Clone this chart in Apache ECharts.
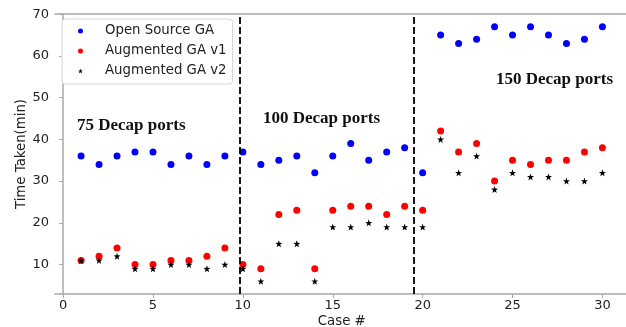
<!DOCTYPE html>
<html>
<head>
<meta charset="utf-8">
<script src="https://cdn.jsdelivr.net/npm/echarts@6/dist/echarts.min.js"></script>
<style>
  html, body { margin: 0; padding: 0; background: #fff; }
  #chart { width: 626px; height: 327px; }
</style>
</head>
<body>
<div id="chart"></div>
<script>
// case numbers 1..30
const cases = [1, 2, 3, 4, 5, 6, 7, 8, 9, 10, 11, 12, 13, 14, 15, 16, 17, 18, 19, 20,
  21, 22, 23, 24, 25, 26, 27, 28, 29, 30]
const openSourceGA = [36, 34, 36, 37, 37, 34, 36, 34, 36, 37, 34, 35, 36, 32, 36, 39, 35, 37, 38, 32,
  65, 63, 64, 67, 65, 67, 65, 63, 64, 67]
const augmentedV1 = [11, 12, 14, 10, 10, 11, 11, 12, 14, 10, 9, 22, 23, 9, 23, 24, 24, 22, 24, 23,
  42, 37, 39, 30, 35, 34, 35, 35, 37, 38]
const augmentedV2 = [11, 11, 12, 9, 9, 10, 10, 9, 10, 9, 6, 15, 15, 6, 19, 19, 20, 19, 19, 19,
  40, 32, 36, 28, 32, 31, 31, 30, 30, 32]
const dividers = [9.8, 19.5]
const xTicks = [0, 5, 10, 15, 20, 25, 30]
const yTicks = [10, 20, 30, 40, 50, 60, 70]
const groupLabels = ['75 Decap ports', '100 Decap ports', '150 Decap ports']

const star = 'path://M0,-10L2.35,-3.24L9.51,-3.09L3.8,1.24L5.88,8.09L0,4L-5.88,8.09L-3.8,1.24L-9.51,-3.09L-2.35,-3.24Z'
const pairs = ys => cases.map((c, i) => [c, ys[i]])
const axisFont = { fontFamily: 'DejaVu Sans', fontSize: 13, color: '#222' }
const spine = '#a8a8a8'

const chart = echarts.init(document.getElementById('chart'), null, { renderer: 'canvas' })

chart.setOption({
  animation: false,
  backgroundColor: '#fff',
  grid: {
    left: 55,
    top: 14,
    right: -2.5,
    bottom: 33,
    outerBoundsMode: 'none',
    containLabel: false,
    show: false
  },
  legend: {
    left: 62,
    top: 19,
    orient: 'vertical',
    backgroundColor: '#fff',
    borderColor: '#d6d6d6',
    borderWidth: 1,
    borderRadius: 3,
    padding: [5, 6, 6, 16],
    itemGap: 6,
    itemWidth: 5,
    itemHeight: 5,
    textStyle: { fontFamily: 'DejaVu Sans', fontSize: 13.3, color: '#222', lineHeight: 14, padding: [0, 0, 0, 17] },
    data: [
      { name: 'Open Source GA', icon: 'circle' },
      { name: 'Augmented GA v1', icon: 'circle' },
      { name: 'Augmented GA v2', icon: star }
    ]
  },
  xAxis: [
    {
      type: 'value',
      min: -0.45,
      max: 31.45,
      name: 'Case #',
      nameLocation: 'middle',
      nameGap: 21,
      nameMoveOverlap: false,
      nameTextStyle: { ...axisFont, fontSize: 13.3, verticalAlign: 'top' },
      axisLine: { show: true, lineStyle: { color: spine, width: 1.5 } },
      axisTick: { show: true, length: 4, lineStyle: { color: spine }, customValues: xTicks },
      axisLabel: { ...axisFont, margin: 5, customValues: xTicks },
      splitLine: { show: false }
    },
    {
      // top spine only
      type: 'value',
      position: 'top',
      min: -0.45,
      max: 31.45,
      axisLine: { show: true, lineStyle: { color: spine, width: 1.5 } },
      axisTick: { show: false },
      axisLabel: { show: false },
      splitLine: { show: false }
    }
  ],
  yAxis: {
    type: 'value',
    min: 2.95,
    max: 70.05,
    name: 'Time Taken(min)',
    nameLocation: 'middle',
    nameGap: 27,
    nameMoveOverlap: false,
    nameTextStyle: { ...axisFont, fontSize: 13.3 },
    axisLine: { show: true, lineStyle: { color: spine, width: 1.5 } },
    axisTick: { show: true, length: 4, lineStyle: { color: spine }, customValues: yTicks },
    axisLabel: { ...axisFont, margin: 6, customValues: yTicks },
    splitLine: { show: false }
  },
  series: [
    {
      name: 'Open Source GA',
      type: 'scatter',
      symbol: 'circle',
      symbolSize: 7,
      itemStyle: { color: '#0000ff', opacity: 1 },
      data: pairs(openSourceGA),
      markLine: {
        silent: true,
        symbol: 'none',
        label: { show: false },
        lineStyle: { color: '#000', type: [7, 3], width: 1.8, opacity: 1 },
        data: dividers.map(x => ({ xAxis: x }))
      }
    },
    {
      name: 'Augmented GA v1',
      type: 'scatter',
      symbol: 'circle',
      symbolSize: 7,
      itemStyle: { color: '#ff0000', opacity: 1 },
      data: pairs(augmentedV1)
    },
    {
      name: 'Augmented GA v2',
      type: 'scatter',
      symbol: star,
      symbolSize: 7,
      itemStyle: { color: '#000', opacity: 1 },
      data: pairs(augmentedV2)
    }
  ],
  graphic: [
    { type: 'text', left: 77, top: 117, style: { text: groupLabels[0], font: 'bold 17px "Liberation Serif"', fill: '#111' } },
    { type: 'text', left: 263, top: 110, style: { text: groupLabels[1], font: 'bold 17px "Liberation Serif"', fill: '#111' } },
    { type: 'text', left: 496, top: 71, style: { text: groupLabels[2], font: 'bold 17px "Liberation Serif"', fill: '#111' } }
  ]
})
</script>
</body>
</html>
